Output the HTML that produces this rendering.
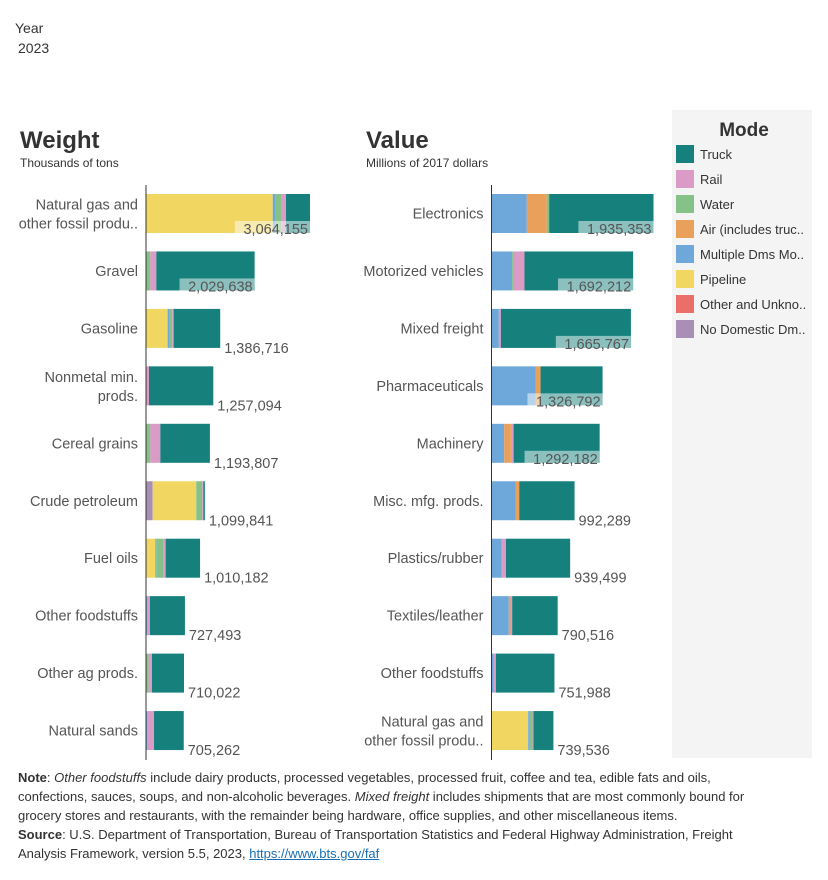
<!DOCTYPE html>
<html><head><meta charset="utf-8"><style>
body{margin:0;background:#fff;font-family:"Liberation Sans",sans-serif;}
svg text{font-family:"Liberation Sans",sans-serif;}
</style></head><body>
<svg id="c" width="828" height="875" xmlns="http://www.w3.org/2000/svg">
<text x="15" y="33" font-size="14" fill="#333">Year</text>
<text x="18" y="53" font-size="14" fill="#333">2023</text>
<text x="20" y="148" font-size="24" font-weight="bold" fill="#333">Weight</text>
<text x="20" y="167" font-size="12" fill="#333">Thousands of tons</text>
<text x="366" y="148" font-size="24" font-weight="bold" fill="#333">Value</text>
<text x="366" y="167" font-size="12" fill="#333">Millions of 2017 dollars</text>
<rect x="672" y="110" width="140" height="648" fill="#f4f4f4"/>
<text x="744" y="136" font-size="19" font-weight="bold" fill="#333" text-anchor="middle">Mode</text>
<g id="legend"></g>
<g id="w"></g><g id="v"></g>
<line x1="146" y1="185" x2="146" y2="760" stroke="#333" stroke-width="1"/>
<line x1="491.5" y1="185" x2="491.5" y2="760" stroke="#333" stroke-width="1"/>
</svg>
<div style="position:absolute;left:18px;top:768px;width:762px;font-size:13px;line-height:19px;color:#333">
<b>Note</b>: <i>Other foodstuffs</i> include dairy products, processed vegetables, processed fruit, coffee and tea, edible fats and oils, confections, sauces, soups, and non-alcoholic beverages. <i>Mixed freight</i> includes shipments that are most commonly bound for grocery stores and restaurants, with the remainder being hardware, office supplies, and other miscellaneous items.<br>
<b>Source</b>: U.S. Department of Transportation, Bureau of Transportation Statistics and Federal Highway Administration, Freight Analysis Framework, version 5.5, 2023, <span style="color:#1a6fb5;text-decoration:underline">https://www.bts.gov/faf</span>
</div>
<script>
const modes=["No Domestic Dm..","Pipeline","Multiple Dms Mo..","Air (includes truc..","Water","Rail","Other and Unkno..","Truck"];
const modeColors=["#a98fb6","#f1d762","#6ea8da","#e9a05a","#84c287","#db9bc7","#eb6f68","#16807d"];
const legendOrder=[7,5,4,3,2,1,6,0];
const weightCats=[["Natural gas and","other fossil produ.."],["Gravel"],["Gasoline"],["Nonmetal min.","prods."],["Cereal grains"],["Crude petroleum"],["Fuel oils"],["Other foodstuffs"],["Other ag prods."],["Natural sands"]];
const weightTotals=[3064155,2029638,1386716,1257094,1193807,1099841,1010182,727493,710022,705262];
const weightNoDom=[0,0,0,0,0,124,0,0,0,0];
const weightPipeline=[2368,0,404,0,0,815,174,0,0,0];
const weightMultiple=[43,0,37,0,0,0,19,19,0,19];
const weightAir=[0,0,0,0,0,0,0,0,0,0];
const weightWater=[112,81,50,0,81,112,137,0,50,0];
const weightRail=[93,112,25,56,187,20,37,56,62,131];
const weightOther=[0,0,0,0,0,0,0,0,0,0];
const valueCats=[["Electronics"],["Motorized vehicles"],["Mixed freight"],["Pharmaceuticals"],["Machinery"],["Misc. mfg. prods."],["Plastics/rubber"],["Textiles/leather"],["Other foodstuffs"],["Natural gas and","other fossil produ.."]];
const valueTotals=[1935353,1692212,1665767,1326792,1292182,992289,939499,790516,751988,739536];
const valueNoDom=[0,0,0,0,0,0,0,0,0,0];
const valuePipeline=[0,0,0,0,0,0,0,0,0,438];
const valueMultiple=[422,247,88,530,152,287,120,207,28,20];
const valueAir=[239,0,0,56,80,44,0,20,0,0];
const valueWater=[28,16,0,0,0,0,0,0,0,32];
const valueRail=[0,131,24,0,32,0,52,20,24,12];
const valueOther=[0,0,0,0,0,0,0,0,0,0];

const NS="http://www.w3.org/2000/svg";
function mk(tag,attrs,parent){const e=document.createElementNS(NS,tag);for(const k in attrs)e.setAttribute(k,attrs[k]);parent.appendChild(e);return e;}
const rowY=i=>194+i*57.45;
const BH=39;
function fmt(n){return n.toLocaleString("en-US");}

function draw(g,x0,maxPx,maxVal,cats,totals,parts,prefix){
  const sx=v=>v/maxVal*maxPx;
  cats.forEach((c,i)=>{
    const y=rowY(i);
    const lab=mk("text",{x:x0-8,"text-anchor":"end","font-size":"14.5",fill:"#555"},g);
    
    
    const ly=c.length==1?y+BH/2+5:y+BH/2-4;
    c.forEach((t,j)=>{const ts=mk("tspan",{x:x0-8,y:ly+j*19},lab);ts.textContent=t;});
    const total=totals[i]/1000;
    let acc=0;
    const segs=parts.map(p=>p[i]);
    const known=segs.reduce((a,b)=>a+b,0);
    const vals=segs.concat([Math.max(0,total-known)]);
    vals.forEach((v,m)=>{
      if(v<=0)return;
      const r=mk("rect",{x:x0+sx(acc),y:y,width:sx(v),height:BH,fill:modeColors[m]},g);
      
      
      acc+=v;
    });
    const w=sx(total);
    const s=fmt(totals[i]);
    const tw=s.length*7.9;
    if(w>100){
      const bg=mk("rect",{x:x0+w-tw-4,y:y+BH-12,width:tw+4,height:14,fill:"#fff","fill-opacity":"0.5"},g);
      
      
      const t=mk("text",{x:x0+w-2,y:y+BH+1,"text-anchor":"end","font-size":"14.5",fill:"#555"},g);
      t.textContent=s;
      
      
    }else{
      const t=mk("text",{x:x0+w+4,y:y+BH+5,"font-size":"14.5",fill:"#555"},g);
      t.textContent=s;
      
      
    }
  });
}
draw(document.getElementById("w"),146,164,3064.155,weightCats,weightTotals,[weightNoDom,weightPipeline,weightMultiple,weightAir,weightWater,weightRail,weightOther],"weight");
draw(document.getElementById("v"),491.5,162,1935.353,valueCats,valueTotals,[valueNoDom,valuePipeline,valueMultiple,valueAir,valueWater,valueRail,valueOther],"value");

const lg=document.getElementById("legend");
legendOrder.forEach((m,k)=>{
  const y=145+k*25;
  const r=mk("rect",{x:676,y:y,width:18,height:18,fill:modeColors[m]},lg);
  
  
  const t=mk("text",{x:700,y:y+14,"font-size":"13",fill:"#333"},lg);
  t.textContent=modes[m];
  
  
});
</script>
</body></html>
